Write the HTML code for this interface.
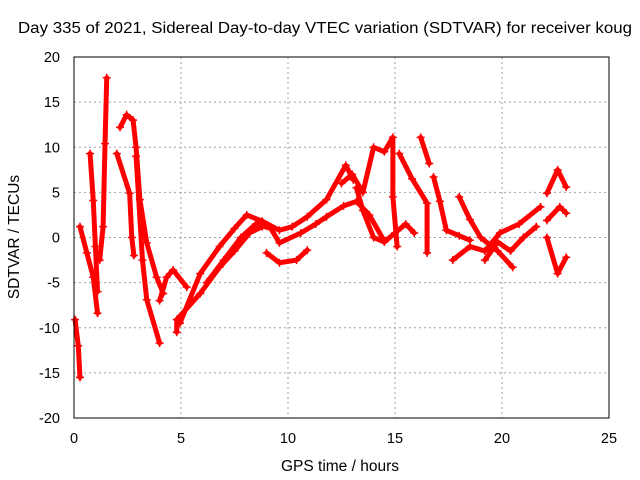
<!DOCTYPE html>
<html><head><meta charset="utf-8"><style>
body{margin:0;background:#fff}
svg{display:block;font-family:"Liberation Sans",sans-serif}
</style></head><body>
<svg id="chart" width="640" height="480">
<text x="18" y="33" font-size="15.5" textLength="614" lengthAdjust="spacingAndGlyphs">Day 335 of 2021, Sidereal Day-to-day VTEC variation (SDTVAR) for receiver koug</text>
<text x="340" y="471" text-anchor="middle" font-size="15.5">GPS time / hours</text>
<text transform="translate(19,237) rotate(-90)" text-anchor="middle" font-size="15.5">SDTVAR / TECUs</text>
<g id="grid"></g>
<g id="ticks"></g>
<g id="series"></g>
<rect x="74" y="57" width="535" height="361" fill="none" stroke="#000" stroke-width="1"/>
</svg>
<script>
const xTicks=[0,5,10,15,20,25];
const yTicks=[-20,-15,-10,-5,0,5,10,15,20];
const trace1=[[0.05,-9.1],[0.2,-12],[0.28,-15.5]];
const trace2=[[0.28,1.2],[0.6,-1.7],[0.9,-4.4],[1.1,-8.4]];
const trace3=[[0.75,9.3],[0.9,4.1],[1.0,-1],[1.1,-6]];
const trace4=[[1.53,17.7],[1.45,10.4],[1.36,1.2],[1.2,-2.5]];
const trace5=[[2.15,12.2],[2.46,13.6],[2.76,13],[2.9,10],[3.08,4.2],[3.4,-0.6],[3.86,-4.4],[4.17,-6.2]];
const trace6=[[2.0,9.3],[2.6,4.9],[2.7,0],[2.8,-2]];
const trace7=[[2.9,9],[3.2,-2.5],[3.4,-6.9],[4.0,-11.7]];
const trace8=[[4.0,-7],[4.33,-4.4],[4.63,-3.6],[5.27,-5.5]];
const trace9=[[4.8,-10.5],[4.8,-9.1],[5.9,-6.2],[6.8,-3.3],[7.5,-1.5],[8.2,0.5],[8.8,1.2]];
const trace10=[[4.95,-9.5],[5.9,-4],[6.8,-1],[7.5,1],[8.07,2.5],[8.8,1.8],[9.6,0.8],[10.2,1.2],[10.9,2.3],[11.8,4.2],[12.7,8],[13.05,6.4]];
const trace11=[[6.2,-5],[7.0,-2.5],[7.8,0],[8.5,1.5],[9.2,1],[9.6,-0.6],[10.6,0.5],[11.3,1.5],[11.8,2.3],[12.6,3.5],[13.2,4],[13.8,2.5],[14.4,0]];
const trace12=[[9.0,-1.7],[9.6,-2.8],[10.4,-2.5],[10.9,-1.4]];
const trace13=[[12.5,6],[13.0,7],[13.5,5],[14.0,10],[14.5,9.5],[14.9,11.1],[14.9,4.5],[15.1,-1]];
const trace14=[[13.2,5.5],[13.5,3],[14.0,0],[14.5,-0.5],[15.0,0.5],[15.5,1.5],[15.9,0.5]];
const trace15=[[15.2,9.3],[15.8,6.5],[16.5,3.8],[16.5,-1.7]];
const trace16=[[16.2,11.1],[16.6,8.2]];
const trace17=[[16.8,6.7],[17.1,4],[17.4,0.8],[18.0,0.2],[18.5,-0.3]];
const trace18=[[18.0,4.5],[18.5,2],[19.0,0],[19.8,-1.5],[20.5,-3.3]];
const trace19=[[17.7,-2.5],[18.5,-1],[19.2,-1.5],[19.9,0.5],[20.8,1.5],[21.8,3.4]];
const trace20=[[19.2,-2.5],[19.8,-0.5],[20.4,-1.5],[21.0,0],[21.6,1.2]];
const trace21=[[22.1,1.9],[22.7,3.4],[23.0,2.7]];
const trace22=[[22.1,0],[22.6,-4],[23.0,-2.2]];
const trace23=[[22.1,4.9],[22.6,7.5],[23.0,5.6]];
const traces=[trace1,trace2,trace3,trace4,trace5,trace6,trace7,trace8,trace9,trace10,trace11,trace12,trace13,trace14,trace15,trace16,trace17,trace18,trace19,trace20,trace21,trace22,trace23];
const NS='http://www.w3.org/2000/svg';
const X=t=>74+t*(535/25);
const Y=v=>237.5-v*(361/40);
const grid=document.getElementById('grid'),ticks=document.getElementById('ticks'),ser=document.getElementById('series');
function mk(tag,attrs,parent){const e=document.createElementNS(NS,tag);for(const k in attrs)e.setAttribute(k,attrs[k]);parent.appendChild(e);return e;}
xTicks.forEach(t=>{
 if(t>0&&t<25){const g=mk('line',{x1:X(t),x2:X(t),y1:57,y2:418,stroke:'#a0a0a0','stroke-dasharray':'2,3'},grid);
 
 }
 const l=mk('text',{x:X(t),y:443,'text-anchor':'middle','font-size':'14.5'},ticks);l.textContent=t;
 
 
});
yTicks.forEach(v=>{
 if(v>-20&&v<20){const g=mk('line',{x1:74,x2:609,y1:Y(v),y2:Y(v),stroke:'#a0a0a0','stroke-dasharray':'2,3'},grid);
 
 }
 const l=mk('text',{x:60,y:Y(v)+5,'text-anchor':'end','font-size':'14.5'},ticks);l.textContent=v;
 
 
});
traces.forEach(tr=>{
 const p=mk('polyline',{points:tr.map(d=>X(d[0])+','+Y(d[1])).join(' '),fill:'none',stroke:'#ff0000','stroke-width':'5','stroke-linejoin':'round','stroke-linecap':'round'},ser);
 
 
 tr.forEach(d=>{
  const m=mk('path',{d:`M${X(d[0])-4},${Y(d[1])}h8M${X(d[0])},${Y(d[1])-4}v8`,stroke:'#ff0000','stroke-width':'1.5'},ser);
  
  
 });
});
</script>
</body></html>
